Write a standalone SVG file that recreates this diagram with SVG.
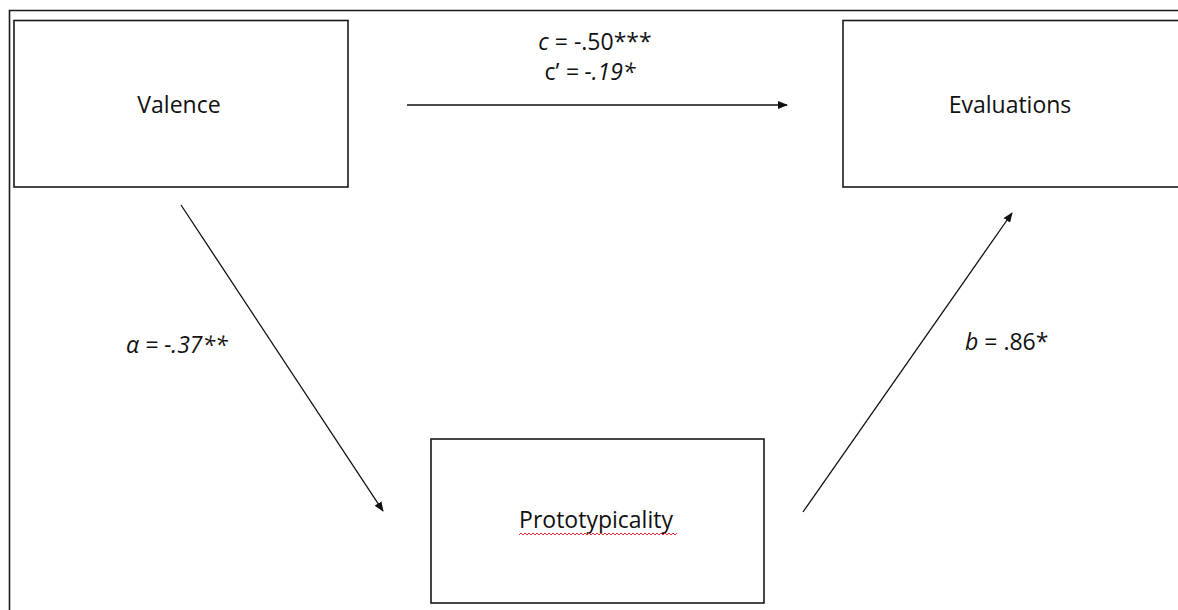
<svg xmlns="http://www.w3.org/2000/svg" width="1178" height="610" viewBox="0 0 1178 610">
<defs>
<style>
.box{fill:#fff;stroke:#1a1a1a;stroke-width:1.6}
.lbl{font-family:"Open Sans","Liberation Sans",sans-serif;font-size:23px;fill:#111}
.conn{stroke:#111;stroke-width:1.3;fill:none;marker-end:url(#ah)}
.it{font-style:italic}
</style>
<marker id="ah" markerWidth="10" markerHeight="8" refX="9" refY="4" orient="auto" markerUnits="userSpaceOnUse">
<path d="M0,0 L10,4 L0,8 Z" fill="#111"/>
</marker>
</defs>
<rect width="1178" height="610" fill="#fff"/>
<path d="M9.5,620 V10.5 H1190" fill="none" stroke="#1a1a1a" stroke-width="1.6"/>
<g id="valence">
<rect class="box" x="14" y="20.5" width="334" height="166.5"/>
<text class="lbl" x="179" y="113" text-anchor="middle">Valence</text>
</g>
<g id="evaluations">
<rect class="box" x="843" y="20.5" width="360" height="166.5"/>
<text class="lbl" x="1010" y="113" text-anchor="middle">Evaluations</text>
</g>
<g id="prototypicality">
<rect class="box" x="431" y="439" width="333" height="164"/>
<text class="lbl" x="596" y="528" text-anchor="middle">Prototypicality</text>
<path d="M519,535 l2,-2 l2,2 l2,-2 l2,2 l2,-2 l2,2 l2,-2 l2,2 l2,-2 l2,2 l2,-2 l2,2 l2,-2 l2,2 l2,-2 l2,2 l2,-2 l2,2 l2,-2 l2,2 l2,-2 l2,2 l2,-2 l2,2 l2,-2 l2,2 l2,-2 l2,2 l2,-2 l2,2 l2,-2 l2,2 l2,-2 l2,2 l2,-2 l2,2 l2,-2 l2,2 l2,-2 l2,2 l2,-2 l2,2 l2,-2 l2,2 l2,-2 l2,2 l2,-2 l2,2 l2,-2 l2,2 l2,-2 l2,2 l2,-2 l2,2 l2,-2 l2,2 l2,-2 l2,2 l2,-2 l2,2 l2,-2 l2,2 l2,-2 l2,2 l2,-2 l2,2 l2,-2 l2,2 l2,-2 l2,2 l2,-2 l2,2 l2,-2 l2,2 l2,-2 l2,2 l2,-2 l2,2 l2,-2" fill="none" stroke="#e0303a" stroke-width="1"/>
</g>
<g id="connectors">
<line class="conn" x1="407" y1="105" x2="787" y2="105"/>
<line class="conn" x1="181" y1="205" x2="383" y2="511"/>
<line class="conn" x1="803" y1="512" x2="1012" y2="213"/>
</g>
<g id="labels">
<text class="lbl" x="595" y="50" text-anchor="middle"><tspan class="it">c</tspan> = -.50***</text>
<text class="lbl" x="590" y="80" text-anchor="middle">c’ <tspan class="it">= -.19*</tspan></text>
<text class="lbl it" x="126" y="353">α = -.37**</text>
<text class="lbl" x="965" y="350"><tspan class="it">b</tspan> = .86*</text>
</g>
</svg>
